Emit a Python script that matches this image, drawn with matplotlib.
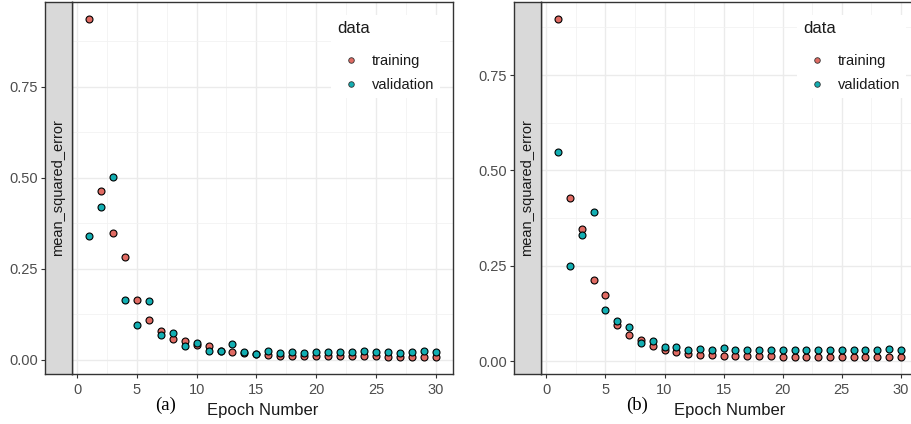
import matplotlib
matplotlib.use('Agg')
import matplotlib.pyplot as plt
from matplotlib.lines import Line2D
import numpy as np

plt.rcParams['font.family'] = ['Liberation Sans', 'DejaVu Sans']

# 数据：每个 epoch 的 MSE
epochs = list(range(1, 31))

train_a = [0.936, 0.464, 0.349, 0.282, 0.165, 0.110, 0.080, 0.058, 0.052, 0.039,
           0.037, 0.024, 0.021, 0.019, 0.016, 0.014, 0.011, 0.011, 0.011, 0.011,
           0.011, 0.011, 0.011, 0.011, 0.011, 0.007, 0.007, 0.007, 0.007, 0.007]
valid_a = [0.340, 0.420, 0.503, 0.165, 0.094, 0.162, 0.069, 0.073, 0.038, 0.046,
           0.025, 0.023, 0.042, 0.020, 0.016, 0.024, 0.018, 0.021, 0.018, 0.021,
           0.021, 0.021, 0.021, 0.024, 0.021, 0.021, 0.018, 0.021, 0.024, 0.021]

train_b = [0.897, 0.429, 0.346, 0.213, 0.173, 0.096, 0.070, 0.056, 0.040, 0.029,
           0.024, 0.020, 0.017, 0.017, 0.014, 0.014, 0.014, 0.014, 0.014, 0.011,
           0.011, 0.011, 0.011, 0.011, 0.011, 0.011, 0.011, 0.011, 0.011, 0.011]
valid_b = [0.548, 0.249, 0.331, 0.390, 0.134, 0.105, 0.091, 0.047, 0.052, 0.037,
           0.038, 0.029, 0.031, 0.029, 0.035, 0.029, 0.029, 0.029, 0.029, 0.029,
           0.029, 0.029, 0.029, 0.029, 0.029, 0.029, 0.029, 0.029, 0.032, 0.029]

series_labels = ['training', 'validation']
panel_tags = ['(a)', '(b)']
x_label = 'Epoch Number'
strip_label = 'mean_squared_error'
legend_title = 'data'

C_TRAIN = '#E06B63'
C_VALID = '#12AEB2'
DARK = '#333333'
TICK_TXT = '#4D4D4D'

W, H = 911, 424
fig = plt.figure(figsize=(W / 100, H / 100), dpi=100)


def rect(x0, y0, x1, y1):
    return [x0 / W, 1 - y1 / H, (x1 - x0) / W, (y1 - y0) / H]


def expand(vals, frac=0.05):
    lo, hi = min(vals), max(vals)
    d = (hi - lo) * frac
    return lo - d, hi + d


def draw_panel(strip_box, main_box, train, valid, tag, tag_x, leg_anchor):
    ax = fig.add_axes(rect(*main_box))
    sax = fig.add_axes(rect(*strip_box), sharey=ax)

    ax.scatter(epochs, train, s=25, c=C_TRAIN, edgecolors='black', linewidths=0.8, zorder=3)
    ax.scatter(epochs, valid, s=25, c=C_VALID, edgecolors='black', linewidths=0.8, zorder=3)

    ax.set_xlim(expand([1, 30]))
    ax.set_ylim(expand(train + valid))

    ax.set_xticks(np.arange(0, 31, 5))
    ax.set_xticks(np.arange(2.5, 31, 5), minor=True)
    ax.set_yticks([0, 0.25, 0.5, 0.75])
    ax.set_yticks([0.125, 0.375, 0.625, 0.875], minor=True)
    ax.grid(True, which='major', color='#EBEBEB', linewidth=1.0, zorder=0)
    ax.grid(True, which='minor', color='#F2F2F2', linewidth=0.6, zorder=0)
    ax.set_axisbelow(True)
    ax.tick_params(axis='x', which='major', direction='out', length=3, color=DARK,
                   labelcolor=TICK_TXT, labelsize=10.5, pad=3.5)
    ax.tick_params(axis='both', which='minor', length=0)
    ax.tick_params(axis='y', which='major', left=False, labelleft=False)
    for sp in ax.spines.values():
        sp.set_color(DARK)
        sp.set_linewidth(1.0)

    # 左侧灰色 strip
    sax.set_facecolor('#D9D9D9')
    sax.set_xticks([])
    sax.tick_params(axis='y', which='major', direction='out', length=3, color=DARK,
                    labelcolor=TICK_TXT, labelsize=10.5, pad=2)
    sax.tick_params(axis='y', which='minor', length=0)
    sax.yaxis.set_major_formatter(matplotlib.ticker.FormatStrFormatter('%.2f'))
    for sp in sax.spines.values():
        sp.set_color(DARK)
        sp.set_linewidth(1.0)
    sax.text(0.5, 0.5, strip_label, rotation=90, ha='center', va='center',
             fontsize=10.5, color='#1A1A1A', transform=sax.transAxes)

    handles = [Line2D([], [], linestyle='none', marker='o', markersize=4,
                      markerfacecolor=c, markeredgecolor='#333333', markeredgewidth=0.6)
               for c in (C_TRAIN, C_VALID)]
    leg = ax.legend(handles, series_labels, title=legend_title, loc='upper left',
                    bbox_to_anchor=leg_anchor, frameon=True, facecolor='white',
                    edgecolor='none', framealpha=1, fancybox=False, fontsize=10.5,
                    title_fontsize=12, handlelength=1.9, handletextpad=0.5,
                    labelspacing=0.72, borderpad=0.4, alignment='left')
    leg.get_frame().set_linewidth(0)
    leg._legend_box.sep = 13
    leg.set_zorder(5)
    for t in leg.get_texts():
        t.set_color('#1A1A1A')
    leg.get_title().set_color('#1A1A1A')

    cx = (main_box[0] + main_box[2]) / 2
    fig.text(cx / W, 1 - 410 / H, x_label, ha='center', va='center', fontsize=12, color='#1A1A1A')
    fig.text(tag_x / W, 1 - 405 / H, tag, ha='center', va='center', fontsize=13.5,
             family='Liberation Serif', color='black')


draw_panel((45, 2, 71.7, 374), (71.7, 2, 453, 374), train_a, valid_a,
           panel_tags[0], 166, (0.662, 0.985))
draw_panel((514, 2, 541, 374), (541, 2, 918, 374), train_b, valid_b,
           panel_tags[1], 637, (0.66, 0.985))

fig.savefig('out.png', dpi=100)
